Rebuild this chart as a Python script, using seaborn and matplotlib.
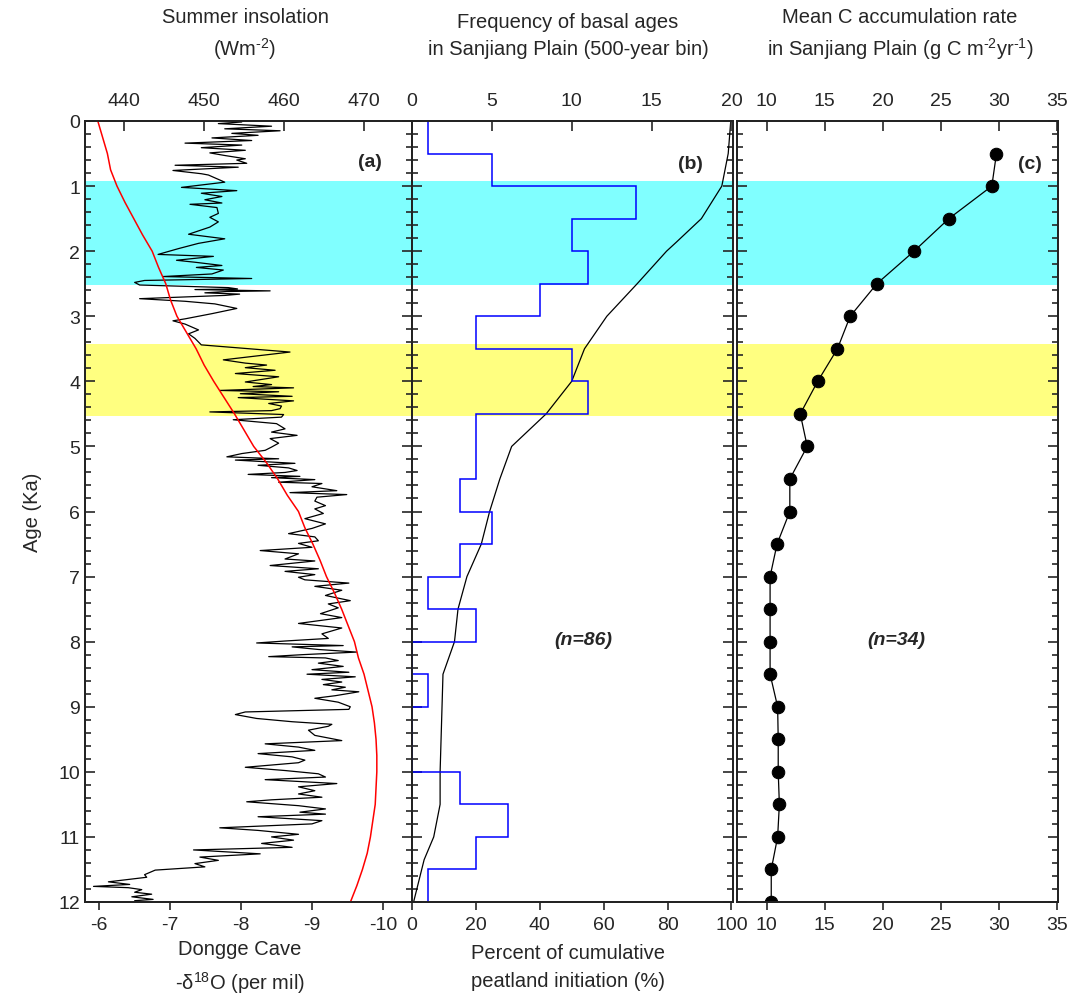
import numpy as np
import matplotlib
matplotlib.use("Agg")
import matplotlib.pyplot as plt
from matplotlib.ticker import MultipleLocator
import seaborn as sns

# ---- data ----
# panel (a) Dongge Cave d18O (age in ka, -d18O values)
age_d18o = [0.015, 0.04, 0.08, 0.12, 0.15, 0.19, 0.22, 0.26, 0.30, 0.34, 0.37, 0.41, 0.45, 0.49,
            0.53, 0.58, 0.60, 0.65, 0.68, 0.71, 0.76, 0.81, 0.83, 0.94, 1.02, 1.07, 1.11, 1.16,
            1.21, 1.26, 1.28, 1.33, 1.42, 1.48, 1.55, 1.63, 1.74, 1.81, 1.88, 1.96, 2.05, 2.08,
            2.14, 2.17, 2.22, 2.25, 2.29, 2.35, 2.39, 2.42, 2.45, 2.48, 2.52, 2.56, 2.58, 2.59,
            2.61, 2.62, 2.64, 2.66, 2.68, 2.73, 2.77, 2.81, 2.88, 2.96, 3.04, 3.07, 3.12, 3.21,
            3.27, 3.34, 3.44, 3.55, 3.67, 3.72, 3.75, 3.79, 3.83, 3.88, 3.93, 3.98,
            4.01, 4.05, 4.08, 4.10, 4.14, 4.16, 4.19, 4.23, 4.25, 4.30, 4.34, 4.38, 4.42, 4.45,
            4.47, 4.51, 4.55, 4.59, 4.65, 4.73, 4.78, 4.83, 4.88, 4.95, 5.01, 5.06, 5.11, 5.16,
            5.19, 5.21, 5.26, 5.29, 5.33, 5.37, 5.40, 5.43, 5.46, 5.48, 5.51, 5.55, 5.57, 5.62,
            5.68, 5.71, 5.74, 5.78, 5.84, 5.91, 5.96, 6.03, 6.11, 6.19, 6.26, 6.34, 6.39, 6.45,
            6.49, 6.55, 6.60, 6.65, 6.73, 6.76, 6.83, 6.88, 6.92, 6.97, 7.01, 7.05, 7.10, 7.15,
            7.21, 7.29, 7.37, 7.42, 7.48, 7.57, 7.63, 7.72, 7.79, 7.88, 7.95, 7.99,
            8.02, 8.06, 8.08, 8.12, 8.16, 8.20, 8.23, 8.25, 8.29, 8.33, 8.38, 8.43, 8.47, 8.50,
            8.54, 8.58, 8.62, 8.66, 8.70, 8.74, 8.77, 8.83, 8.87, 8.93, 9.00, 9.04, 9.08, 9.12,
            9.18, 9.23, 9.27, 9.30, 9.36, 9.44, 9.52, 9.57, 9.62, 9.67, 9.72, 9.77, 9.82, 9.86,
            9.93, 9.98, 10.03, 10.08, 10.12, 10.18, 10.23, 10.29, 10.34, 10.39, 10.43, 10.46,
            10.52, 10.57, 10.62, 10.65, 10.69, 10.75, 10.80, 10.86, 10.90, 10.96, 11.00, 11.05,
            11.10, 11.16, 11.20, 11.26, 11.31, 11.36, 11.41, 11.46, 11.51, 11.58, 11.62, 11.69,
            11.73, 11.76, 11.78, 11.81, 11.85, 11.88, 11.92, 11.96, 11.98]
d18o = [-8.01, -7.68, -8.43, -7.77, -8.55, -7.87, -8.24, -7.59, -8.15, -7.21, -8.01, -7.44, -8.06, -7.56,
        -7.77, -8.06, -7.94, -8.08, -7.07, -7.96, -7.04, -7.44, -7.54, -7.77, -7.16, -7.94, -7.44, -7.73,
        -7.49, -7.73, -7.28, -7.66, -7.68, -7.56, -7.68, -7.56, -7.26, -7.77, -7.40, -7.12, -6.83, -7.61,
        -7.09, -7.35, -7.73, -7.37, -7.75, -7.59, -6.90, -8.15, -6.64, -6.50, -6.57, -7.82, -7.95, -7.35,
        -8.41, -7.80, -7.49, -7.98, -7.77, -6.57, -7.21, -7.63, -7.94, -7.59, -7.21, -7.04, -7.21, -7.40,
        -7.26, -7.35, -7.44, -8.69, -7.75, -8.06, -8.36, -8.06, -8.48, -7.92, -8.53, -8.24,
        -8.06, -8.43, -8.17, -8.74, -7.70, -8.53, -7.99, -8.72, -7.96, -8.74, -8.39, -8.57, -8.55, -8.43,
        -7.56, -8.60, -8.57, -7.89, -8.50, -8.62, -8.43, -8.79, -8.41, -8.53, -8.43, -8.34, -8.01, -7.80,
        -8.53, -7.92, -8.76, -8.24, -8.67, -8.79, -8.62, -8.10, -8.83, -8.43, -9.04, -8.53, -9.14, -9.00,
        -9.35, -8.69, -9.49, -9.07, -9.04, -9.19, -9.04, -9.16, -8.90, -9.19, -9.00, -8.67, -9.04, -9.09,
        -8.81, -9.00, -8.27, -8.81, -8.62, -9.04, -8.41, -9.09, -8.62, -9.04, -8.81, -8.90, -9.52, -9.04,
        -9.42, -9.19, -9.54, -9.23, -9.37, -9.12, -9.42, -8.81, -9.42, -9.14, -9.23, -8.62,
        -8.22, -9.44, -8.72, -9.09, -9.63, -8.86, -8.39, -9.19, -9.37, -9.09, -9.44, -9.00, -9.52, -8.93,
        -9.61, -9.14, -9.42, -9.16, -9.47, -9.28, -9.66, -9.33, -9.04, -9.37, -9.54, -9.52, -8.06, -7.92,
        -8.22, -8.72, -9.28, -9.23, -8.95, -9.04, -9.42, -8.34, -8.81, -9.04, -8.24, -8.72, -8.90, -8.81,
        -8.06, -8.62, -9.09, -9.19, -8.34, -9.35, -8.81, -9.04, -8.81, -9.14, -8.43, -8.08,
        -8.81, -9.19, -8.83, -9.19, -8.24, -9.14, -9.00, -7.70, -8.24, -8.81, -8.43, -8.74,
        -8.29, -8.72, -7.33, -8.27, -7.42, -7.68, -7.35, -7.49, -6.79, -6.64, -6.67, -6.13,
        -6.43, -5.92, -6.41, -6.60, -6.50, -6.74, -6.46, -6.76, -6.50]

# panel (a) summer insolation (W m-2)
age_insol = [0.0, 0.25, 0.5, 0.75, 1.0, 1.25, 1.5, 1.75, 2.0, 2.25, 2.5, 2.75, 3.0, 3.25, 3.5,
             3.75, 4.0, 4.25, 4.5, 4.75, 5.0, 5.25, 5.5, 5.75, 6.0, 6.25, 6.5, 6.75, 7.0, 7.25,
             7.5, 7.75, 8.0, 8.25, 8.5, 8.75, 9.0, 9.25, 9.5, 9.75, 10.0, 10.25, 10.5, 10.75,
             11.0, 11.25, 11.5, 11.75, 12.0]
insol = [436.7, 437.3, 437.9, 438.3, 439.1, 440.1, 441.2, 442.3, 443.5, 444.3, 445.2, 445.8,
         446.6, 447.8, 449.0, 450.0, 451.2, 452.5, 453.8, 455.0, 456.2, 457.8, 459.2, 460.4,
         461.8, 462.6, 463.6, 464.5, 465.3, 466.3, 467.2, 468.0, 468.8, 469.3, 470.0, 470.5,
         471.0, 471.3, 471.5, 471.6, 471.6, 471.5, 471.4, 471.1, 470.8, 470.4, 469.8, 469.1, 468.3]

# panel (b) basal-age frequency per 500-year bin
bin_edges = [0.0, 0.5, 1.0, 1.5, 2.0, 2.5, 3.0, 3.5, 4.0, 4.5, 5.0, 5.5, 6.0, 6.5, 7.0, 7.5,
             8.0, 8.5, 9.0, 9.5, 10.0, 10.5, 11.0, 11.5, 12.0]
freq = [1, 5, 14, 10, 11, 8, 4, 10, 11, 4, 4, 3, 5, 3, 1, 4, 0, 1, 0, 0, 3, 6, 4, 1]

# panel (b) cumulative peatland initiation (%)
age_cum = [0.0, 0.5, 1.0, 1.5, 1.86, 2.0, 2.5, 3.0, 3.5, 4.0, 4.5, 5.0, 5.5, 6.0, 6.5, 7.0,
           7.5, 8.0, 8.5, 9.0, 10.0, 10.5, 11.0, 11.35, 12.0]
cum_pct = [99.8, 99.0, 97.0, 90.6, 82.8, 79.7, 70.5, 61.0, 54.0, 50.0, 42.0, 31.2, 27.5, 24.3,
           21.7, 17.2, 14.4, 13.3, 9.7, 9.4, 8.8, 8.8, 6.8, 3.8, 0.5]

# panel (c) mean C accumulation rate (g C m-2 yr-1)
age_rate = [0.5, 1.0, 1.5, 2.0, 2.5, 3.0, 3.5, 4.0, 4.5, 5.0, 5.5, 6.0, 6.5, 7.0, 7.5, 8.0,
            8.5, 9.0, 9.5, 10.0, 10.5, 11.0, 11.5, 12.0]
c_rate = [29.8, 29.4, 25.7, 22.7, 19.5, 17.2, 16.1, 14.4, 12.9, 13.5, 12.0, 12.0, 10.9, 10.3,
          10.3, 10.3, 10.3, 10.95, 11.0, 11.0, 11.1, 10.95, 10.4, 10.4]

cyan_band = (0.92, 2.52)
yellow_band = (3.42, 4.54)

# ---- style ----
sns.set_style("ticks")
plt.rcParams["font.family"] = ["Liberation Sans", "DejaVu Sans"]
plt.rcParams["mathtext.fontset"] = "custom"
plt.rcParams["mathtext.rm"] = "Liberation Sans"
plt.rcParams["mathtext.it"] = "Liberation Sans:italic"
plt.rcParams["mathtext.bf"] = "Liberation Sans:bold"
plt.rcParams["axes.unicode_minus"] = False

TICK_FS = 14
LABEL_FS = 14.5
W, H = 1072, 1003


def box(x0, x1, y0=122, y1=903):
    return [x0 / W, 1 - y1 / H, (x1 - x0) / W, (y1 - y0) / H]


def style_panel(ax, top, show_ylabels):
    ax.axhspan(*cyan_band, color="#80ffff", lw=0, zorder=0)
    ax.axhspan(*yellow_band, color="#ffff80", lw=0, zorder=0)
    ax.set_ylim(12, 0)
    ax.yaxis.set_major_locator(MultipleLocator(1))
    ax.yaxis.set_minor_locator(MultipleLocator(0.2))
    ax.tick_params(axis="y", which="both", direction="in", left=True, right=True,
                   labelleft=show_ylabels, labelright=False, labelsize=TICK_FS, width=1.2)
    ax.tick_params(axis="y", which="major", length=7)
    ax.tick_params(axis="y", which="minor", length=4)
    ax.tick_params(axis="x", direction="out", length=6, width=1.2, labelsize=TICK_FS, pad=4)
    top.tick_params(axis="x", direction="in", length=7, width=1.2, labelsize=TICK_FS, pad=9)
    for a in (ax, top):
        a.set_xlabel("")
        a.set_ylabel("")
        for s in a.spines.values():
            s.set_visible(True)
            s.set_color("#222222")
            s.set_linewidth(1.3)


fig = plt.figure(figsize=(10.72, 10.03), dpi=100)

# (a) Dongge Cave + insolation
ax_a = fig.add_axes(box(85, 412))
top_a = ax_a.twiny()
sns.lineplot(x=d18o, y=age_d18o, sort=False, estimator=None, color="black", lw=0.9, ax=ax_a)
sns.lineplot(x=insol, y=age_insol, sort=False, estimator=None, color="red", lw=1.1, ax=top_a)
ax_a.set_xlim(-5.8, -10.41)
ax_a.set_xticks([-6, -7, -8, -9, -10])
top_a.set_xlim(435.1, 476.0)
top_a.set_xticks([440, 450, 460, 470])
style_panel(ax_a, top_a, True)
ax_a.text(0.872, 0.948, "(a)", transform=ax_a.transAxes, ha="center", va="center",
          fontsize=14, fontweight="bold")

# (b) basal ages
ax_b = fig.add_axes(box(412, 733))
top_b = ax_b.twiny()
sns.lineplot(x=cum_pct, y=age_cum, sort=False, estimator=None, color="black", lw=0.9, ax=ax_b)
top_b.stairs(freq, bin_edges, orientation="horizontal", baseline=None, color="blue", lw=1.1)
ax_b.set_xlim(0, 100.5)
ax_b.set_xticks([0, 20, 40, 60, 80, 100])
top_b.set_xlim(0, 20.1)
top_b.set_xticks([0, 5, 10, 15, 20])
style_panel(ax_b, top_b, False)
ax_b.text(0.866, 0.946, "(b)", transform=ax_b.transAxes, ha="center", va="center",
          fontsize=14, fontweight="bold")
ax_b.text(0.533, 0.336, "(n=86)", transform=ax_b.transAxes, ha="center", va="center",
          fontsize=14, fontweight="bold", fontstyle="italic")

# (c) carbon accumulation
ax_c = fig.add_axes(box(737, 1058))
top_c = ax_c.twiny()
sns.lineplot(x=c_rate, y=age_rate, sort=False, estimator=None, color="black", lw=0.9,
             marker="o", markersize=9, markeredgecolor="black", ax=ax_c)
ax_c.set_xlim(7.45, 35.1)
top_c.set_xlim(7.45, 35.1)
ax_c.set_xticks([10, 15, 20, 25, 30, 35])
top_c.set_xticks([10, 15, 20, 25, 30, 35])
style_panel(ax_c, top_c, False)
ax_c.text(0.913, 0.946, "(c)", transform=ax_c.transAxes, ha="center", va="center",
          fontsize=14, fontweight="bold")
ax_c.text(0.495, 0.336, "(n=34)", transform=ax_c.transAxes, ha="center", va="center",
          fontsize=14, fontweight="bold", fontstyle="italic")

# axis titles
ax_a.set_ylabel("Age (Ka)", fontsize=LABEL_FS, labelpad=12)
fig.text(245 / W, 1 - 35 / H, "Summer insolation\n(Wm$^{\\text{-2}}$)", ha="center", va="center",
         fontsize=LABEL_FS, linespacing=1.5)
fig.text(568 / W, 1 - 36 / H, "Frequency of basal ages\nin Sanjiang Plain (500-year bin)",
         ha="center", va="center", fontsize=LABEL_FS, linespacing=1.5)
fig.text(900 / W, 1 - 35 / H,
         "Mean C accumulation rate\nin Sanjiang Plain (g C m$^{\\text{-2}}$yr$^{\\text{-1}}$)",
         ha="center", va="center", fontsize=LABEL_FS, linespacing=1.5)
fig.text(240 / W, 1 - 968 / H, "Dongge Cave\n-δ$^{\\text{18}}$O (per mil)", ha="center",
         va="center", fontsize=LABEL_FS, linespacing=1.6)
fig.text(568 / W, 1 - 968 / H, "Percent of cumulative\npeatland initiation (%)", ha="center",
         va="center", fontsize=LABEL_FS, linespacing=1.6)

fig.savefig("out.png", dpi=100)
